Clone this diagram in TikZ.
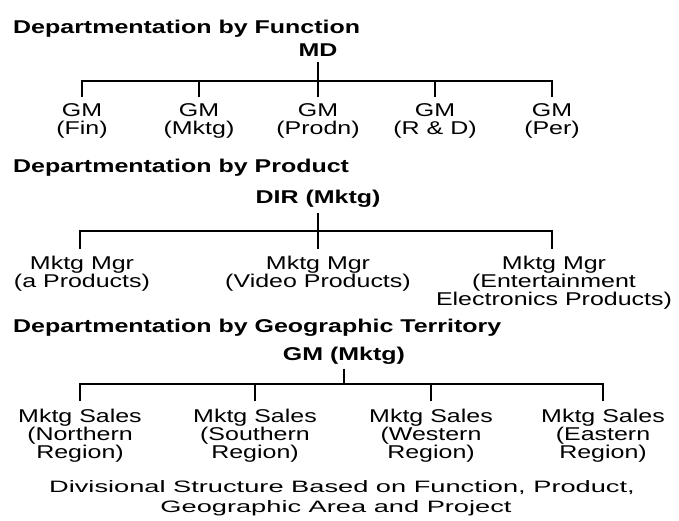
\documentclass[tikz,border=0pt]{standalone}
\usepackage{fontspec}
\setmainfont[FakeStretch=1.35]{Liberation Sans}
\newfontfamily\capfont[FakeStretch=1.65]{Liberation Sans}
\begin{document}
\begin{tikzpicture}[x=1pt,y=-1pt,
  title/.style={anchor=base west,inner sep=0pt,font=\fontsize{18.5}{18}\selectfont\bfseries},
  head/.style={anchor=base,inner sep=0pt,outer sep=5pt,font=\fontsize{18.5}{18}\selectfont\bfseries},
  child/.style={anchor=north,inner sep=0pt,outer ysep=7pt,align=center,font=\fontsize{18.5}{17.8}\selectfont},
  capt/.style={anchor=base,inner sep=0pt,font=\capfont\fontsize{16.5}{17}\selectfont},
  conn/.style={line width=1.6pt}]
\useasboundingbox (0,0) rectangle (679,521);
% Section 1
\node[title] (t1) at (13,34) {Departmentation by Function};
\node[head] (md) at (318,57) {MD};
\node[child] (f1) at (82,97) {GM\\(Fin)};
\node[child] (f2) at (199,97) {GM\\(Mktg)};
\node[child] (f3) at (318,97) {GM\\(Prodn)};
\node[child] (f4) at (435,97) {GM\\(R \& D)};
\node[child] (f5) at (552,97) {GM\\(Per)};
\coordinate (b1) at (318,81);
\draw[conn] (md.south) -- (f3.north);
\draw[conn] (f1.north) |- (b1) -| (f5.north);
\draw[conn] (f2.north) -- (f2.north |- b1);
\draw[conn] (f4.north) -- (f4.north |- b1);
% Section 2
\node[title] (t2) at (13,173) {Departmentation by Product};
\node[head] (dir) at (318,204) {DIR (Mktg)};
\node[child] (p1) at (82,249) {Mktg Mgr\\(a Products)};
\node[child] (p2) at (318,249) {Mktg Mgr\\(Video Products)};
\node[child] (p3) at (554,249) {Mktg Mgr\\(Entertainment\\Electronics Products)};
\coordinate (b2) at (318,231);
\coordinate (e1) at (80,249);
\coordinate (e3) at (552,249);
\draw[conn] (dir.south) -- (p2.north);
\draw[conn] (e1) |- (b2) -| (e3);
% Section 3
\node[title] (t3) at (13,332) {Departmentation by Geographic Territory};
\node[head] (gm) at (344,360) {GM (Mktg)};
\node[child,outer ysep=8pt] (g1) at (80,401) {Mktg Sales\\(Northern\\Region)};
\node[child,outer ysep=8pt] (g2) at (255,401) {Mktg Sales\\(Southern\\Region)};
\node[child,outer ysep=8pt] (g3) at (431,401) {Mktg Sales\\(Western\\Region)};
\node[child,outer ysep=8pt] (g4) at (603,401) {Mktg Sales\\(Eastern\\Region)};
\coordinate (b3) at (344,384);
\draw[conn] (gm.south) -- (b3);
\draw[conn] (g1.north) |- (b3) -| (g4.north);
\draw[conn] (g2.north) -- (g2.north |- b3);
\draw[conn] (g3.north) -- (g3.north |- b3);
% Caption
\node[capt] (c1) at (342,492) {Divisional Structure Based on Function, Product,};
\node[capt] (c2) at (336,512) {Geographic Area and Project};
\end{tikzpicture}
\end{document}
